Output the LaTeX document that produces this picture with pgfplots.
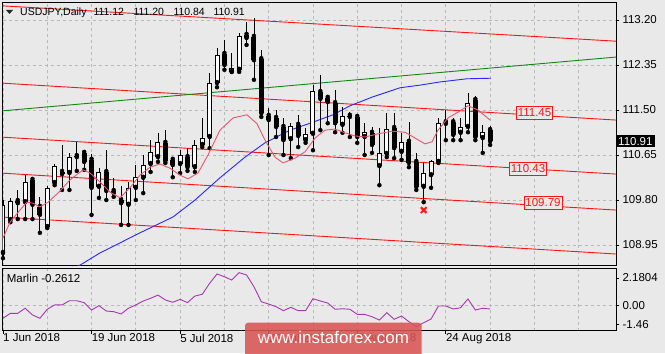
\documentclass[border=0pt]{standalone}
\usepackage{pgfplots}
\pgfplotsset{compat=1.18}
\usepackage{pgfplotstable}
\usepackage{fontspec}
\setmainfont{Liberation Sans}
\definecolor{bgc}{RGB}{233,233,233}
\definecolor{gridc}{RGB}{185,185,185}
\definecolor{chred}{RGB}{255,20,20}
\definecolor{mapink}{RGB}{228,88,112}
\definecolor{mablue}{RGB}{40,40,255}
\definecolor{lgreen}{RGB}{20,135,20}
\definecolor{marlinc}{RGB}{165,55,175}
\definecolor{wmred}{RGB}{218,85,85}
\newcommand{\lf}{\fontsize{11.5bp}{13bp}\selectfont}
\newcommand{\hf}{\fontsize{10.5bp}{12bp}\selectfont}

\pgfplotstableread{
i O H L C
0 108.80 109.80 108.70 109.71
1 109.42 109.84 109.38 109.78
2 109.78 109.99 109.44 109.74
3 109.76 110.27 109.44 110.14
4 110.18 110.22 109.44 109.71
5 109.67 109.86 109.18 109.52
6 109.29 110.06 109.27 110.03
7 110.12 110.48 110.08 110.44
8 110.33 110.84 109.99 110.29
9 110.31 110.69 109.99 110.61
10 110.63 110.90 110.35 110.61
11 110.69 110.74 110.37 110.52
12 110.56 110.67 109.52 110.03
13 110.05 110.40 109.84 110.33
14 110.33 110.74 109.80 109.97
15 109.97 110.22 109.86 109.93
16 109.80 110.06 109.33 109.74
17 109.71 110.14 109.33 110.03
18 110.03 110.46 109.80 110.23
19 110.22 110.65 109.93 110.46
20 110.48 110.93 110.33 110.71
21 110.61 111.07 110.52 110.90
22 110.88 111.12 110.50 110.54
23 110.56 110.61 110.23 110.46
24 110.48 110.74 110.31 110.65
25 110.61 110.78 110.35 110.42
26 110.42 110.93 110.33 110.84
27 110.84 111.35 110.80 110.97
28 110.99 112.20 110.78 112.01
29 112.01 112.67 111.93 112.54
30 112.56 112.82 112.26 112.35
31 112.22 112.58 112.22 112.29
32 112.26 112.95 112.22 112.90
33 112.92 113.16 112.73 112.86
34 112.88 113.24 112.07 112.44
35 112.46 112.63 111.37 111.44
36 111.39 111.54 110.65 111.31
37 111.35 111.50 110.99 111.18
38 111.18 111.35 110.65 110.93
39 110.95 111.25 110.59 111.20
40 111.22 111.41 110.80 111.01
41 110.93 111.16 110.88 111.05
42 111.05 111.97 110.74 111.86
43 111.84 112.16 111.12 111.71
44 111.73 111.76 111.25 111.65
45 111.63 111.88 111.08 111.25
46 111.22 111.56 111.07 111.39
47 111.39 111.46 110.99 111.37
48 111.37 111.41 110.88 110.99
49 110.99 111.25 110.65 111.08
50 111.07 111.18 110.69 110.84
51 110.44 111.16 110.08 110.69
52 110.67 111.44 110.61 111.14
53 111.16 111.44 110.59 110.78
54 110.71 111.07 110.56 110.90
55 110.90 111.27 110.42 110.50
56 110.52 110.69 109.99 110.05
57 110.05 110.52 109.76 110.31
58 110.27 110.56 110.03 110.54
59 110.52 111.35 110.50 111.25
60 111.27 111.50 110.93 111.24
61 111.27 111.35 110.93 111.03
62 111.07 111.35 110.93 111.18
63 111.18 111.82 111.08 111.63
64 111.69 111.76 110.93 110.99
65 110.97 111.22 110.69 111.08
66 111.12 111.20 110.84 110.91
}\candles

\pgfplotstableread{
i v
0 -0.99
1 -0.60
2 -0.60
3 -0.20
4 -0.73
5 -0.99
6 -0.28
7 0.06
8 0.06
9 0.39
10 0.39
11 0.24
12 -0.34
13 0.00
14 -0.42
15 -0.47
16 -0.65
17 -0.20
18 0.06
19 0.37
20 0.58
21 0.84
22 0.45
23 0.27
24 0.50
25 0.24
26 0.76
27 0.90
28 1.76
29 2.50
30 2.28
31 2.02
32 2.60
33 2.42
34 1.50
35 0.31
36 0.13
37 -0.08
38 -0.39
39 -0.13
40 -0.39
41 -0.39
42 0.55
43 0.37
44 0.21
45 -0.28
46 -0.24
47 -0.28
48 -0.68
49 -0.68
50 -0.87
51 -1.13
52 -0.55
53 -1.07
54 -0.81
55 -1.26
56 -1.65
57 -1.34
58 -1.05
59 -0.02
60 -0.02
61 -0.26
62 -0.16
63 0.53
64 -0.34
65 -0.20
66 -0.26
}\marlin

\pgfplotsset{
  mt4/.style={
    scale only axis, anchor=south west,
    xmin=-0.04, xmax=83.06,
    axis background/.style={fill=bgc},
    axis line style={black, line width=0.8bp},
    tick style={black, line width=0.8bp},
    tick align=outside, major tick length=3bp, minor tick length=0bp,
    ytick pos=right, yticklabel pos=right,
    tick label style={font=\lf},
    /pgf/number format/assume math mode=true,
    yticklabel style={anchor=west},
    minor xtick={6,18,30,42,54,66,72,78},
    xmajorgrids, xminorgrids,
    major grid style={gridc, line width=0.8bp, dash pattern=on 3bp off 3bp},
    minor grid style={gridc, line width=0.8bp, dash pattern=on 3bp off 3bp},
    clip mode=individual,
  },
  candle/.style={only marks, mark=none, forget plot,
    error bars/.cd, y dir=plus, y explicit, error mark=none},
}

\begin{document}
\begin{tikzpicture}[x=1bp,y=1bp]
\fill[bgc] (0,0) rectangle (665,353);
\useasboundingbox (0,0) rectangle (665,353);

\begin{axis}[mt4, at={(2.7bp,87.5bp)}, width=613.3bp, height=262.8bp,
  ymin=108.563, ymax=113.527,
  xtick={0,12,24,36,48,60}, xticklabels={}, xtick style={draw=none},
  ytick={108.95,109.80,110.65,111.50,112.35,113.20},
  yticklabels={108.95,109.80,110.65,111.50,112.35,113.20},
  ymajorgrids,
]
\addplot[chred, line width=0.9bp] coordinates {(-0.41,113.47) (83.06,112.80)};
\addplot[chred, line width=0.9bp] coordinates {(-0.41,112.01) (83.06,111.31)};
\addplot[chred, line width=0.9bp] coordinates {(-0.41,110.99) (83.06,110.29)};
\addplot[chred, line width=0.9bp] coordinates {(-0.41,110.31) (83.06,109.61)};
\addplot[chred, line width=0.9bp] coordinates {(-0.41,109.48) (83.06,108.78)};
\addplot[lgreen, line width=0.9bp] coordinates {(-0.41,111.48) (83.06,112.50)};
\addplot[mablue, line width=0.9bp] coordinates {(7.72,108.38) (10.43,108.57) (13.14,108.80) (18.56,109.18) (23.04,109.48) (26.02,109.80) (29.40,110.22) (32.79,110.61) (35.5,110.88) (38.89,111.12) (41.6,111.25) (44.72,111.41) (47.02,111.58) (50.14,111.75) (53.79,111.92) (56.5,111.97) (59.21,112.03) (62.87,112.09) (66.12,112.10)};
% wicks
\addplot[candle, error bar style={black, line width=0.8bp}]
  table[x=i, y=L, y error plus expr={\thisrow{H}-\thisrow{L}}] {\candles};
% bodies
\addplot[candle, error bar style={black, line width=5bp, line cap=butt}]
  table[x=i, y expr={min(\thisrow{O},\thisrow{C})}, y error plus expr={max(abs(\thisrow{C}-\thisrow{O}),0.02)}] {\candles};
\addplot[candle, error bar style={white, line width=3bp, line cap=butt}]
  table[x=i, y expr={\thisrow{O}+0.019}, y error plus expr={max(\thisrow{C}-\thisrow{O}-0.038,0)}] {\candles};
\addplot[mapink, line width=0.9bp] coordinates {(0,109.08) (0.95,109.38) (2.30,109.61) (3.25,109.76) (4.07,109.74) (5.01,109.67) (6.10,109.76) (7.45,109.93) (9.08,110.18) (10.84,110.37) (11.79,110.31) (13.14,110.14) (14.5,109.95) (15.85,109.84) (17.21,110.03) (18.56,110.27) (19.92,110.42) (21.27,110.48) (22.63,110.40) (23.98,110.27) (25.07,110.20) (26.42,110.31) (27.78,110.65) (29.40,111.12) (31.17,111.35) (33.06,111.41) (34.42,111.24) (35.5,110.93) (36.86,110.61) (37.94,110.50) (39.57,110.59) (40.92,110.71) (42.28,110.97) (43.63,111.12) (44.99,111.14) (46.34,111.07) (47.70,111.01) (49.05,110.99) (50.81,111.05) (52.71,111.10) (54.47,111.08) (55.83,110.97) (57.18,110.86) (58.13,110.90) (58.94,111.12) (60.30,111.35) (61.65,111.46) (63.01,111.58) (64.36,111.50) (65.99,111.31)};
\addplot[only marks, mark=x, mark size=4bp, mark options={chred, line width=2bp}] coordinates {(57,109.61)};
\node[draw=chred, fill=bgc, text=chred, font=\lf, line width=0.8bp, inner xsep=1.5bp, inner ysep=2.5bp] at (axis cs:72.02,111.444) {111.45};
\node[draw=chred, fill=bgc, text=chred, font=\lf, line width=0.8bp, inner xsep=1.5bp, inner ysep=2.5bp] at (axis cs:71.14,110.395) {110.43};
\node[draw=chred, fill=bgc, text=chred, font=\lf, line width=0.8bp, inner xsep=1.5bp, inner ysep=2.5bp] at (axis cs:73.17,109.743) {109.79};
\node[fill=black, text=white, anchor=west, inner xsep=2bp, inner ysep=2bp, font=\lf] at (axis cs:83.06,110.91) {110.91};
\end{axis}

\begin{axis}[mt4, at={(2.7bp,22.3bp)}, width=613.3bp, height=62.4bp,
  ymin=-1.969, ymax=2.945,
  xtick={0,12,24,36,48,60}, xtick pos=left,
  xticklabels={1 Jun 2018,19 Jun 2018,5 Jul 2018,23 Jul 2018,8 Aug 2018,24 Aug 2018},
  xticklabel style={anchor=north west, inner sep=0pt},
  ytick={-1.46,2.1804}, yticklabels={-1.46,2.1804},
  extra y ticks={0}, extra y tick labels={0.00}, extra y tick style={grid=major},
]
\addplot[marlinc, line width=0.9bp] table[x=i, y=v] {\marlin};
\end{axis}

\fill[black!85] (6,343) -- (13,343) -- (9.5,339) -- cycle;
\node[anchor=base west, inner sep=0pt, font=\hf] at (20,338) {USDJPY,Daily};
\node[anchor=base west, inner sep=0pt, font=\hf] at (93.3,338) {111.12};
\node[anchor=base west, inner sep=0pt, font=\hf] at (133.3,338) {111.20};
\node[anchor=base west, inner sep=0pt, font=\hf] at (173.3,338) {110.84};
\node[anchor=base west, inner sep=0pt, font=\hf] at (213.3,338) {110.91};
\node[anchor=base west, inner sep=0pt, font=\lf] at (6.7,70.3) {Marlin -0.2612};

\fill[wmred, opacity=0.88, rounded corners=3bp] (245,-5) rectangle (421.7,30.3);
\node[text=white, font=\fontsize{17bp}{19bp}\selectfont] at (333.4,15.5) {www.instaforex.com};
\end{tikzpicture}
\end{document}
